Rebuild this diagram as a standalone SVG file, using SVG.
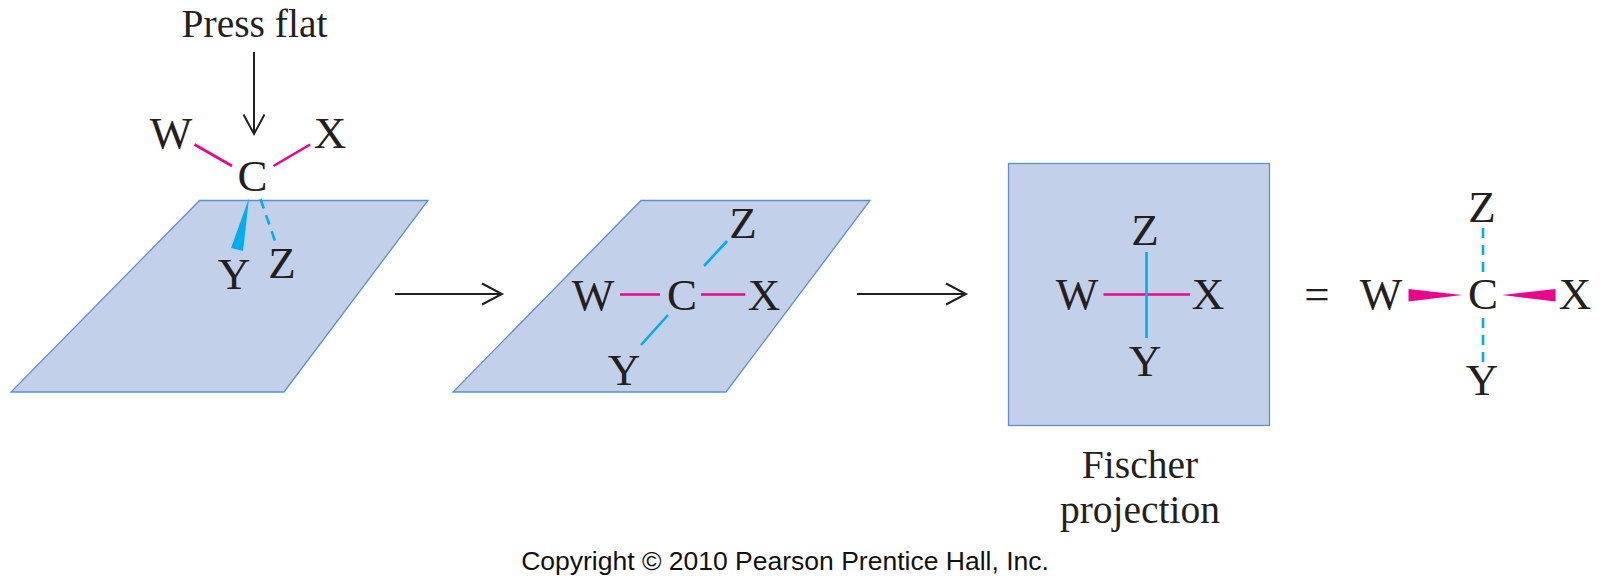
<svg xmlns="http://www.w3.org/2000/svg" width="1600" height="587" viewBox="0 0 1600 587">
<style>
.plane{fill:#c3d0ea;stroke:#5f8fd0;stroke-width:1.3}
.t{font-family:"Liberation Serif",serif;fill:#231f20;text-anchor:middle}
.a{font-size:45px}
.b{font-size:39.500px}
.c{font-family:"Liberation Sans",sans-serif;font-size:26.500px;fill:#111;text-anchor:middle}
.m{stroke:#e9068c;stroke-width:2.600;fill:none}
.y{stroke:#00aeef;stroke-width:2.600;fill:none}
.d{stroke-dasharray:10 7}
.k{stroke:#231f20;stroke-width:2;fill:none}
.mf{fill:#e9068c}
.yf{fill:#00aeef}
</style>
<rect width="1600" height="587" fill="#fff"/>
<g id="plane1"><polygon class="plane" points="199.500,200.500 428,200.500 284,392 11,392"/></g>
<g id="plane2"><polygon class="plane" points="641,200.500 870,200.500 726,392 453,392"/></g>
<g id="plane3"><rect class="plane" x="1008.500" y="163.500" width="261" height="262"/></g>
<g id="connectors">
<path class="k" d="M254 52V134M243.500 114.500L254 134L264.500 114.500"/>
<path class="m" d="M194.500 144.500L232 166M310 144.500L273.500 166"/>
<polygon class="yf" points="249,198 231,248 243,251"/>
<path class="y d" d="M260.500 199L275 241"/>
<path class="k" d="M395 294H502M482 283.500L502 294L482 304.500"/>
<path class="k" d="M857 294H966M946 283.500L966 294L946 304.500"/>
<path class="m" d="M620 294.500H660M701 294.500H745"/>
<path class="y" d="M727 241L704 266M668 315L641 345"/>
<path class="m" d="M1103.500 294.500H1190"/>
<path class="y" d="M1146.500 252V338"/>
<path class="y d" d="M1483 228V275M1483 318V362"/>
<polygon class="mf" points="1408.500,289 1462,295 1408.500,301.500"/>
<polygon class="mf" points="1555.500,289 1502,295 1555.500,301.500"/>
</g>
<g id="press"><text class="t b" x="254.500" y="37">Press flat</text></g>
<g id="a1">
<text class="t a" x="171" y="148">W</text>
<text class="t a" x="330" y="148">X</text>
<text class="t a" x="252.500" y="191">C</text>
<text class="t a" x="234" y="289">Y</text>
<text class="t a" x="282" y="278">Z</text>
</g>
<g id="a2">
<text class="t a" x="593" y="310">W</text>
<text class="t a" x="682" y="310">C</text>
<text class="t a" x="764" y="310">X</text>
<text class="t a" x="743" y="238">Z</text>
<text class="t a" x="624" y="385">Y</text>
</g>
<g id="a3">
<text class="t a" x="1077" y="309">W</text>
<text class="t a" x="1208" y="309">X</text>
<text class="t a" x="1145" y="245">Z</text>
<text class="t a" x="1145" y="376">Y</text>
</g>
<g id="caption"><text class="t b" x="1140" y="478">Fischer</text><text class="t b" x="1140" y="523">projection</text></g>
<g id="eq"><text class="t a" x="1317" y="309">=</text></g>
<g id="a4">
<text class="t a" x="1381" y="309">W</text>
<text class="t a" x="1483" y="309">C</text>
<text class="t a" x="1575" y="309">X</text>
<text class="t a" x="1482" y="222">Z</text>
<text class="t a" x="1482" y="395">Y</text>
</g>
<g id="copyright"><text class="c" x="785" y="570">Copyright © 2010 Pearson Prentice Hall, Inc.</text></g>
</svg>
